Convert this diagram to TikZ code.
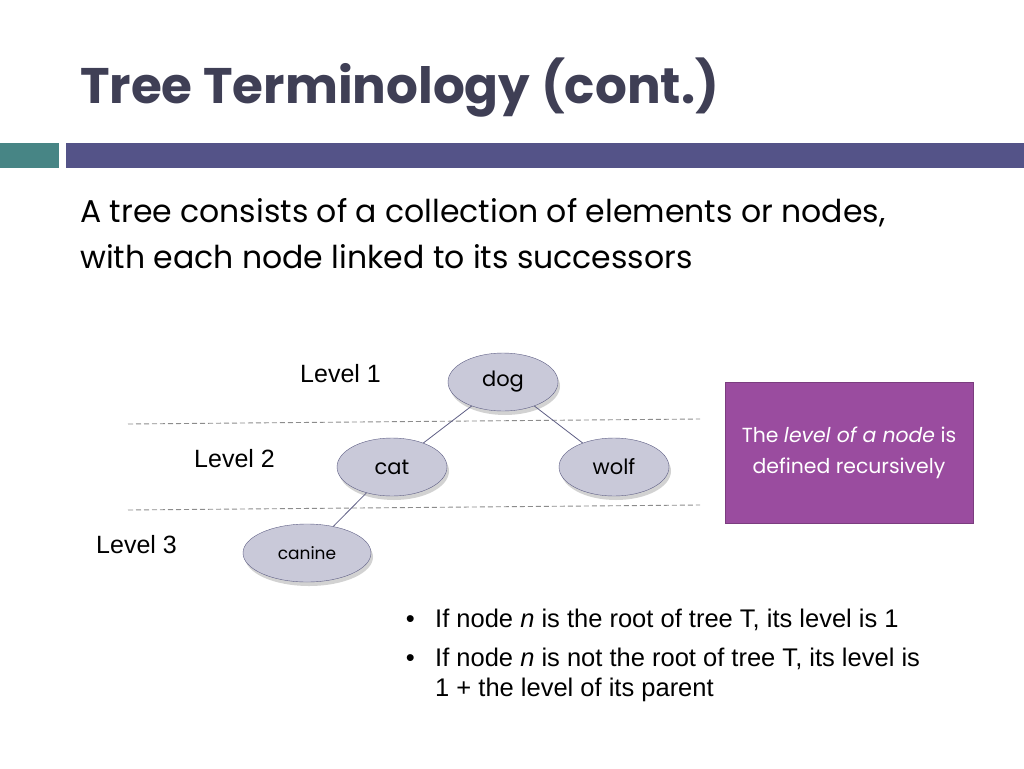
\documentclass[tikz,border=0pt]{standalone}
\usepackage{fontspec}
\setmainfont{Poppins}
\newfontfamily\arialfont{Liberation Sans}
\usetikzlibrary{positioning,shapes.geometric,shadows}
\definecolor{titlegray}{HTML}{3F3F55}
\definecolor{teal}{HTML}{478585}
\definecolor{slate}{HTML}{545388}
\definecolor{nodefill}{HTML}{C9C9D9}
\definecolor{nodeline}{HTML}{5F5F85}
\definecolor{purple}{HTML}{9A4C9F}

\begin{document}
\begin{tikzpicture}[x=1pt,y=-1pt,
  treenode/.style={ellipse,draw=nodeline,fill=nodefill,minimum width=110pt,minimum height=58pt,inner sep=0pt,font=\fontsize{21}{24}\selectfont,drop shadow={shadow xshift=2pt,shadow yshift=-4pt,opacity=0.35}},
  link/.style={draw=nodeline,line width=0.8pt},
  levelline/.style={draw=gray!90,dash pattern=on 5pt off 3pt,line width=0.9pt},
  levellabel/.style={anchor=base west,inner sep=0pt,font=\arialfont\fontsize{25}{28}\selectfont},
  bullettext/.style={anchor=base west,inner sep=0pt,font=\arialfont\fontsize{25.5}{28}\selectfont}]
\useasboundingbox (0,0) rectangle (1024,768);
\fill[white] (0,0) rectangle (1024,768);
% title and bars
\node[anchor=base west,inner sep=0pt,text=titlegray,font=\fontsize{50}{56}\selectfont\bfseries] (title) at (80,103) {Tree Terminology (cont.)};
\fill[teal] (0,143) rectangle (59,168);
\fill[slate] (66,143) rectangle (1024,168);
\node[anchor=base west,inner sep=0pt,font=\fontsize{31.5}{34}\selectfont] (line1) at (80,222) {A tree consists of a collection of elements or nodes,};
\node[anchor=base west,inner sep=0pt,font=\fontsize{31.5}{34}\selectfont] (line2) at (80,268) {with each node linked to its successors};

% level separators
\coordinate (s1a) at (128,424);
\coordinate (s1b) at (700,419);
\coordinate (s2a) at (128,510);
\coordinate (s2b) at (700,505);
\draw[levelline] (s1a) -- (s1b);
\draw[levelline] (s2a) -- (s2b);

% tree
\node[treenode] (dog) at (503,382) {dog};
\node[treenode] (cat) at (392,467) {cat};
\node[treenode] (wolf) at (614,467) {wolf};
\node[treenode,minimum width=128pt,font=\fontsize{17}{20}\selectfont] (canine) at (307,553) {canine};
\draw[link] (dog) -- (cat);
\draw[link] (dog) -- (wolf);
\draw[link] (cat) -- (canine);

\node[levellabel] (lev1) at (300,382) {Level 1};
\node[levellabel] (lev2) at (194,467) {Level 2};
\node[levellabel] (lev3) at (96,553) {Level 3};

% definition box
\node[draw=purple!80!black,fill=purple,line width=1pt,minimum width=248pt,minimum height=141pt,align=center,text=white,font=\fontsize{20.4}{31}\selectfont] (box) at (849,453) {The \textit{level of a node} is\\defined recursively};

% bullets
\node[bullettext] (b1) at (435,627) {If node \textit{n} is the root of tree T, its level is 1};
\node[bullettext] (b2) at (435,666) {If node \textit{n} is not the root of tree T, its level is};
\node[bullettext] (b3) at (435,696) {1 + the level of its parent};
\node[bullettext,anchor=base east] (d1) at ([xshift=-20pt]b1.base west) {\textbullet};
\node[bullettext,anchor=base east] (d2) at ([xshift=-20pt]b2.base west) {\textbullet};
\end{tikzpicture}
\end{document}
